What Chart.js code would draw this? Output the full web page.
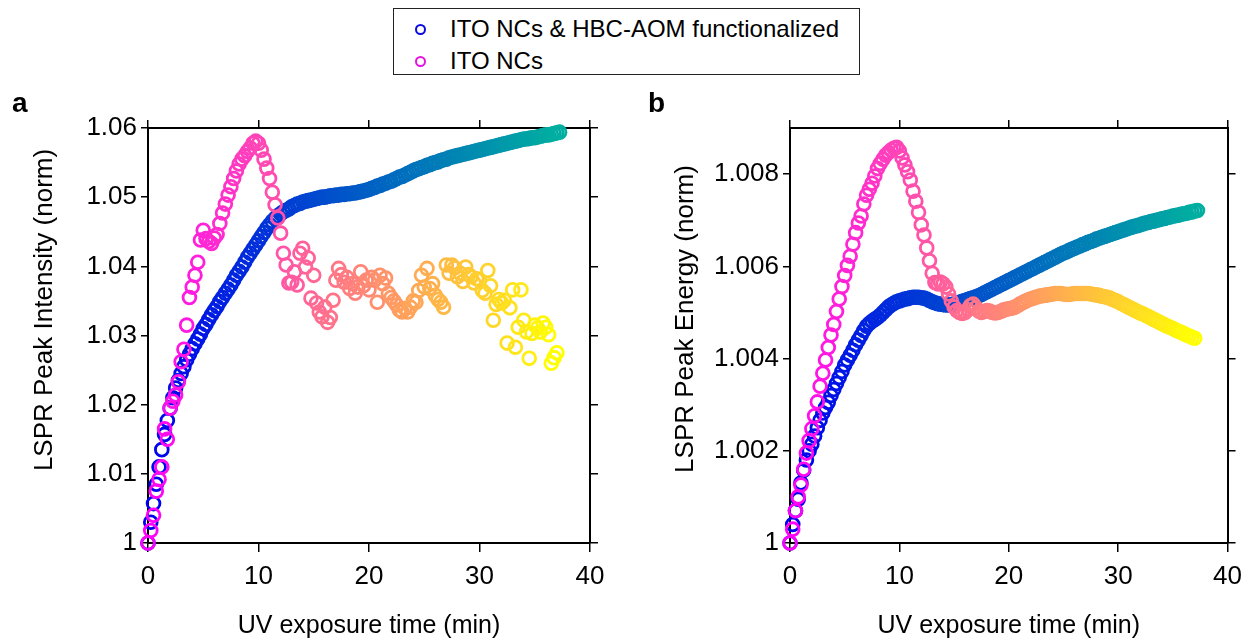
<!DOCTYPE html>
<html>
<head>
<meta charset="utf-8">
<script src="https://cdn.jsdelivr.net/npm/chart.js@4.4.0/dist/chart.umd.min.js"></script>
<style>
    body { margin: 0; background: #fff; font-family: "Liberation Sans", Arial, sans-serif; }
    #figura { position: relative; width: 1251px; height: 641px; overflow: hidden; }
    canvas { position: absolute; top: 0; }
    #graficoA { left: 0; }
    #graficoB { left: 640px; }
    .lettera { position: absolute; top: 89px; font-weight: bold; font-size: 28px; line-height: 28px; color: #000; }
    #legenda { position: absolute; left: 393px; top: 8px; width: 467px; height: 67px; border: 1.5px solid #222;
               box-sizing: border-box; background: #fff; z-index: 2; font-size: 24px; color: #000; }
    .voce { position: absolute; left: 21px; height: 30px; line-height: 30px; white-space: nowrap; }
    .cerchio { display: inline-block; width: 7px; height: 7px; border: 2.6px solid; border-radius: 50%;
               vertical-align: middle; margin: -3px 24px 0 0; }
</style>
</head>
<body>
<div id="figura">
    <canvas id="graficoA" width="620" height="641"></canvas>
    <canvas id="graficoB" width="611" height="641"></canvas>
    <div class="lettera" style="left:12px">a</div>
    <div class="lettera" style="left:648px">b</div>
    <div id="legenda">
        <div class="voce" style="top:5px"><span class="cerchio" style="border-color:rgb(10,10,225)"></span>ITO NCs &amp; HBC-AOM functionalized</div>
        <div class="voce" style="top:37px"><span class="cerchio" style="border-color:rgb(230,20,225)"></span>ITO NCs</div>
    </div>
</div>
<script>
// tempo di esposizione UV (min), comune a tutte le serie
const minuti = [
    0, 0.25, 0.5, 0.75, 1, 1.25, 1.5, 1.75, 2, 2.25,
    2.5, 2.75, 3, 3.25, 3.5, 3.75, 4, 4.25, 4.5, 4.75,
    5, 5.25, 5.5, 5.75, 6, 6.25, 6.5, 6.75, 7, 7.25,
    7.5, 7.75, 8, 8.25, 8.5, 8.75, 9, 9.25, 9.5, 9.75,
    10, 10.25, 10.5, 10.75, 11, 11.25, 11.5, 11.75, 12, 12.25,
    12.5, 12.75, 13, 13.25, 13.5, 13.75, 14, 14.25, 14.5, 14.75,
    15, 15.25, 15.5, 15.75, 16, 16.25, 16.5, 16.75, 17, 17.25,
    17.5, 17.75, 18, 18.25, 18.5, 18.75, 19, 19.25, 19.5, 19.75,
    20, 20.25, 20.5, 20.75, 21, 21.25, 21.5, 21.75, 22, 22.25,
    22.5, 22.75, 23, 23.25, 23.5, 23.75, 24, 24.25, 24.5, 24.75,
    25, 25.25, 25.5, 25.75, 26, 26.25, 26.5, 26.75, 27, 27.25,
    27.5, 27.75, 28, 28.25, 28.5, 28.75, 29, 29.25, 29.5, 29.75,
    30, 30.25, 30.5, 30.75, 31, 31.25, 31.5, 31.75, 32, 32.25,
    32.5, 32.75, 33, 33.25, 33.5, 33.75, 34, 34.25, 34.5, 34.75,
    35, 35.25, 35.5, 35.75, 36, 36.25, 36.5, 36.75, 37, 37.25
];

// intensita' LSPR normalizzata, NCs funzionalizzati
const intensitaFunz = [
    1.0000, 1.0030, 1.0057, 1.0085, 1.0110, 1.0135, 1.0157, 1.0177, 1.0195, 1.0210,
    1.0224, 1.0235, 1.0245, 1.0255, 1.0265, 1.0273, 1.0281, 1.0288, 1.0295, 1.0302,
    1.0310, 1.0316, 1.0323, 1.0330, 1.0336, 1.0342, 1.0349, 1.0355, 1.0361, 1.0367,
    1.0373, 1.0380, 1.0387, 1.0393, 1.0399, 1.0406, 1.0413, 1.0419, 1.0425, 1.0431,
    1.0437, 1.0443, 1.0449, 1.0455, 1.0460, 1.0465, 1.0469, 1.0473, 1.0476, 1.0479,
    1.0481, 1.0483, 1.0486, 1.0488, 1.0490, 1.0491, 1.0493, 1.0494, 1.0495, 1.0496,
    1.0497, 1.0498, 1.0499, 1.0500, 1.0500, 1.0501, 1.0502, 1.0502, 1.0503, 1.0503,
    1.0504, 1.0504, 1.0505, 1.0505, 1.0506, 1.0506, 1.0507, 1.0508, 1.0509, 1.0510,
    1.0511, 1.0513, 1.0514, 1.0516, 1.0517, 1.0519, 1.0520, 1.0522, 1.0523, 1.0525,
    1.0527, 1.0529, 1.0530, 1.0532, 1.0534, 1.0536, 1.0538, 1.0540, 1.0541, 1.0543,
    1.0544, 1.0546, 1.0547, 1.0549, 1.0550, 1.0551, 1.0553, 1.0554, 1.0555, 1.0557,
    1.0558, 1.0559, 1.0560, 1.0561, 1.0562, 1.0563, 1.0564, 1.0565, 1.0566, 1.0567,
    1.0568, 1.0569, 1.0570, 1.0571, 1.0572, 1.0573, 1.0574, 1.0575, 1.0576, 1.0577,
    1.0578, 1.0579, 1.0580, 1.0581, 1.0582, 1.0583, 1.0584, 1.0584, 1.0585, 1.0586,
    1.0586, 1.0587, 1.0588, 1.0589, 1.0590, 1.0590, 1.0591, 1.0592, 1.0593, 1.0594
];

// intensita' LSPR normalizzata, ITO NCs
const intensitaIto = [
    1.0000, 1.0018, 1.0040, 1.0075, 1.0092, 1.0110, 1.0165, 1.0150, 1.0195, 1.0205,
    1.0214, 1.0233, 1.0262, 1.0280, 1.0315, 1.0355, 1.0370, 1.0387, 1.0406, 1.0438,
    1.0452, 1.0440, 1.0436, 1.0433, 1.0441, 1.0446, 1.0462, 1.0477, 1.0490, 1.0503,
    1.0515, 1.0527, 1.0538, 1.0548, 1.0555, 1.0560, 1.0566, 1.0571, 1.0578, 1.0581,
    1.0578, 1.0568, 1.0555, 1.0542, 1.0527, 1.0507, 1.0489, 1.0470, 1.0448, 1.0419,
    1.0402, 1.0376, 1.0377, 1.0392, 1.0373, 1.0419, 1.0426, 1.0399, 1.0412, 1.0354,
    1.0387, 1.0347, 1.0334, 1.0327, 1.0341, 1.0319, 1.0326, 1.0351, 1.0380, 1.0397,
    1.0388, 1.0377, 1.0384, 1.0368, 1.0375, 1.0361, 1.0370, 1.0392, 1.0372, 1.0380,
    1.0366, 1.0384, 1.0380, 1.0348, 1.0387, 1.0375, 1.0383, 1.0361, 1.0355, 1.0350,
    1.0344, 1.0337, 1.0334, 1.0339, 1.0334, 1.0341, 1.0350, 1.0348, 1.0365, 1.0387,
    1.0370, 1.0397, 1.0368, 1.0375, 1.0358, 1.0352, 1.0348, 1.0341, 1.0402, 1.0390,
    1.0402, 1.0398, 1.0385, 1.0390, 1.0378, 1.0399, 1.0388, 1.0385, 1.0376, 1.0382,
    1.0380, 1.0365, 1.0361, 1.0394, 1.0372, 1.0322, 1.0345, 1.0352, 1.0347, 1.0351,
    1.0289, 1.0340, 1.0366, 1.0283, 1.0312, 1.0366, 1.0322, 1.0305, 1.0267, 1.0303,
    1.0315, 1.0311, 1.0305, 1.0318, 1.0312, 1.0301, 1.0260, 1.0268, 1.0275
];

// energia del picco LSPR normalizzata, NCs funzionalizzati
const energiaFunz = [
    1.00000, 1.00040, 1.00070, 1.00095, 1.00130, 1.00158, 1.00180, 1.00200, 1.00214, 1.00232,
    1.00250, 1.00266, 1.00282, 1.00294, 1.00305, 1.00320, 1.00333, 1.00346, 1.00359, 1.00372,
    1.00386, 1.00397, 1.00407, 1.00418, 1.00430, 1.00440, 1.00450, 1.00461, 1.00470, 1.00476,
    1.00481, 1.00485, 1.00489, 1.00494, 1.00500, 1.00506, 1.00512, 1.00516, 1.00520, 1.00523,
    1.00525, 1.00527, 1.00529, 1.00530, 1.00532, 1.00533, 1.00533, 1.00533, 1.00532, 1.00531,
    1.00529, 1.00526, 1.00523, 1.00521, 1.00519, 1.00518, 1.00517, 1.00516, 1.00516, 1.00517,
    1.00518, 1.00520, 1.00522, 1.00524, 1.00526, 1.00528, 1.00530, 1.00532, 1.00534, 1.00536,
    1.00539, 1.00542, 1.00545, 1.00548, 1.00551, 1.00554, 1.00557, 1.00560, 1.00563, 1.00566,
    1.00569, 1.00572, 1.00575, 1.00578, 1.00581, 1.00584, 1.00587, 1.00590, 1.00593, 1.00596,
    1.00599, 1.00602, 1.00605, 1.00608, 1.00611, 1.00614, 1.00617, 1.00620, 1.00623, 1.00626,
    1.00629, 1.00631, 1.00634, 1.00637, 1.00639, 1.00642, 1.00644, 1.00647, 1.00649, 1.00652,
    1.00654, 1.00656, 1.00659, 1.00661, 1.00663, 1.00665, 1.00667, 1.00669, 1.00671, 1.00673,
    1.00675, 1.00677, 1.00679, 1.00681, 1.00683, 1.00685, 1.00687, 1.00688, 1.00690, 1.00692,
    1.00694, 1.00695, 1.00697, 1.00698, 1.00700, 1.00701, 1.00703, 1.00704, 1.00706, 1.00707,
    1.00709, 1.00710, 1.00711, 1.00713, 1.00714, 1.00715, 1.00717, 1.00718, 1.00720, 1.00721
];

// energia del picco LSPR normalizzata, ITO NCs
const energiaIto = [
    1.00000, 1.00030, 1.00070, 1.00100, 1.00126, 1.00160, 1.00195, 1.00222, 1.00248, 1.00276,
    1.00306, 1.00340, 1.00368, 1.00397, 1.00424, 1.00451, 1.00474, 1.00502, 1.00529, 1.00556,
    1.00580, 1.00602, 1.00622, 1.00648, 1.00673, 1.00694, 1.00709, 1.00735, 1.00754, 1.00767,
    1.00780, 1.00796, 1.00812, 1.00823, 1.00832, 1.00841, 1.00847, 1.00852, 1.00856, 1.00858,
    1.00850, 1.00835, 1.00820, 1.00805, 1.00787, 1.00763, 1.00741, 1.00717, 1.00690, 1.00668,
    1.00640, 1.00612, 1.00585, 1.00565, 1.00562, 1.00566, 1.00562, 1.00555, 1.00540, 1.00525,
    1.00512, 1.00504, 1.00500, 1.00498, 1.00500, 1.00506, 1.00515, 1.00518, 1.00510, 1.00503,
    1.00500, 1.00502, 1.00504, 1.00503, 1.00500, 1.00499, 1.00500, 1.00502, 1.00505, 1.00507,
    1.00508, 1.00509, 1.00511, 1.00514, 1.00518, 1.00521, 1.00524, 1.00527, 1.00529, 1.00531,
    1.00533, 1.00535, 1.00536, 1.00537, 1.00538, 1.00539, 1.00540, 1.00541, 1.00541, 1.00541,
    1.00540, 1.00539, 1.00539, 1.00540, 1.00541, 1.00541, 1.00541, 1.00541, 1.00541, 1.00541,
    1.00540, 1.00539, 1.00538, 1.00537, 1.00535, 1.00534, 1.00533, 1.00531, 1.00528, 1.00526,
    1.00523, 1.00520, 1.00517, 1.00514, 1.00511, 1.00508, 1.00505, 1.00502, 1.00499, 1.00497,
    1.00494, 1.00491, 1.00488, 1.00485, 1.00482, 1.00479, 1.00476, 1.00473, 1.00470, 1.00468,
    1.00465, 1.00462, 1.00459, 1.00457, 1.00454, 1.00451, 1.00449, 1.00446, 1.00444
];

const tickTempo = [0, 10, 20, 30, 40];
const etichetteTempo = ['0', '10', '20', '30', '40'];
const tickIntensita = [1, 1.01, 1.02, 1.03, 1.04, 1.05, 1.06];
const etichetteIntensita = ['1', '1.01', '1.02', '1.03', '1.04', '1.05', '1.06'];
const tickEnergia = [1, 1.002, 1.004, 1.006, 1.008];
const etichetteEnergia = ['1', '1.002', '1.004', '1.006', '1.008'];

Chart.defaults.font.family = '"Liberation Sans", Arial, sans-serif';
Chart.defaults.color = '#000';

// scala "winter" per i NCs funzionalizzati, "spring" per gli ITO NCs
function coloreFunz(f) {
    return `rgb(0, ${Math.round(175 * f)}, ${Math.round(240 - 80 * f)})`;
}
function coloreIto(f) {
    return `rgb(255, ${Math.round(255 * f)}, ${Math.round(250 * (1 - f))})`;
}

function punti(valori) {
    return valori.map((v, i) => ({ x: minuti[i], y: v }));
}
function colori(valori, scala) {
    return valori.map((v, i) => scala(i / (valori.length - 1)));
}

function serie(nome, valori, scala, ordine) {
    return {
        label: nome,
        data: punti(valori),
        pointBorderColor: colori(valori, scala),
        pointBackgroundColor: 'rgba(0,0,0,0)',
        pointRadius: 6.4,
        pointHoverRadius: 6.4,
        pointBorderWidth: 2.8,
        showLine: false,
        clip: false,
        order: ordine
    };
}

// titolo dell'asse y ruotato, centrato dove serve
const titoloVerticale = {
    id: 'titoloY',
    afterDraw(chart, args, opz) {
        const c = chart.ctx;
        c.save();
        c.translate(opz.x, opz.y);
        c.rotate(-Math.PI / 2);
        c.font = '26px "Liberation Sans", Arial, sans-serif';
        c.fillStyle = '#000';
        c.textAlign = 'center';
        c.textBaseline = 'middle';
        c.fillText(opz.testo, 0, 0);
        c.restore();
    }
};

function creaPannello(idCanvas, funz, ito, tickY, etichetteY, maxY, titoloY, spazi) {
    const ctx = document.getElementById(idCanvas);
    const griglia = { drawOnChartArea: false, drawTicks: true, tickLength: 8, color: '#000', lineWidth: 1.5 };
    const bordo = { display: true, color: '#000', width: 2 };
    const fissaX = s => { s.ticks = tickTempo.map(v => ({ value: v })); };
    const fissaY = s => { s.ticks = tickY.map(v => ({ value: v })); };

    return new Chart(ctx, {
        type: 'scatter',
        data: {
            datasets: [
                serie('ITO NCs', ito, coloreIto, 0),
                serie('ITO NCs & HBC-AOM functionalized', funz, coloreFunz, 1)
            ]
        },
        options: {
            responsive: false,
            animation: false,
            events: [],
            layout: { padding: 0 },
            plugins: {
                legend: { display: false },
                tooltip: { enabled: false },
                titoloY: { testo: titoloY, x: spazi.titoloX, y: spazi.titoloY }
            },
            scales: {
                x: {
                    type: 'linear', position: 'bottom', min: 0, max: 40,
                    afterBuildTicks: fissaX,
                    ticks: { callback: (v, i) => etichetteTempo[i], font: { size: 26 }, color: '#000', padding: 9, maxRotation: 0, autoSkip: false },
                    grid: { ...griglia, tickLength: 9 },
                    border: bordo,
                    title: { display: true, text: 'UV exposure time (min)', font: { size: 25 }, color: '#000', padding: { top: 0, bottom: 0 } },
                    afterFit: s => { s.height = spazi.basso; }
                },
                xAlto: {
                    axis: 'x', type: 'linear', position: 'top', min: 0, max: 40,
                    afterBuildTicks: fissaX,
                    ticks: { display: false },
                    grid: griglia,
                    border: bordo,
                    afterFit: s => { s.height = spazi.alto; }
                },
                y: {
                    type: 'linear', position: 'left', min: 1, max: maxY,
                    afterBuildTicks: fissaY,
                    ticks: { callback: (v, i) => etichetteY[i], font: { size: 26 }, color: '#000', padding: 4 },
                    grid: { ...griglia, tickLength: 7 },
                    border: bordo,
                    afterFit: s => { s.width = spazi.sinistra; }
                },
                yDestra: {
                    axis: 'y', type: 'linear', position: 'right', min: 1, max: maxY,
                    afterBuildTicks: fissaY,
                    ticks: { display: false },
                    grid: griglia,
                    border: bordo,
                    afterFit: s => { s.width = spazi.destra; }
                }
            }
        },
        plugins: [titoloVerticale]
    });
}

creaPannello('graficoA', intensitaFunz, intensitaIto, tickIntensita, etichetteIntensita, 1.06,
    'LSPR Peak Intensity (norm)',
    { sinistra: 148, destra: 30, alto: 128, basso: 98, titoloX: 45, titoloY: 310 });

creaPannello('graficoB', energiaFunz, energiaIto, tickEnergia, etichetteEnergia, 1.009,
    'LSPR Peak Energy (norm)',
    { sinistra: 150, destra: 22, alto: 128, basso: 98, titoloX: 46, titoloY: 319 });
</script>
</body>
</html>
